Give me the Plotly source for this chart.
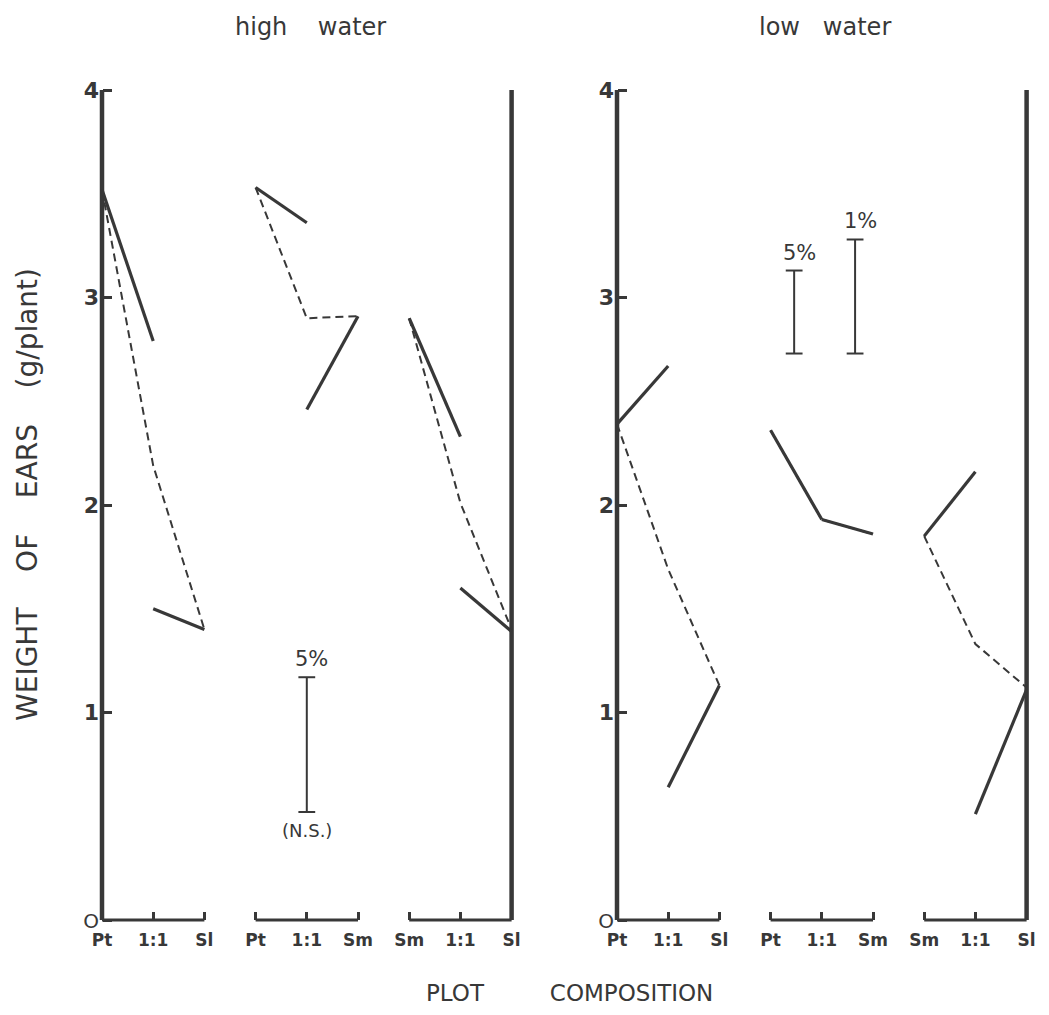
import plotly.graph_objects as go

# ---------------- data ----------------
categories = ["Pt", "1:1", "Sl", "Pt", "1:1", "Sm", "Sm", "1:1", "Sl"]
y_tick_vals = [0, 1, 2, 3, 4]
y_tick_text = ["<span style='font-weight:normal;font-size:20px'>O</span>", "1", "2", "3", "4"]

# high water (g/plant)
hw_g1_solid_a = [3.52, 2.79]        # Pt -> 1:1
hw_g1_dashed = [3.52, 2.19, 1.40]   # Pt -> 1:1 -> Sl
hw_g1_solid_b = [1.50, 1.40]        # 1:1 -> Sl
hw_g2_solid_a = [3.53, 3.36]        # Pt -> 1:1
hw_g2_dashed = [3.53, 2.90, 2.91]   # Pt -> 1:1 -> Sm
hw_g2_solid_b = [2.46, 2.91]        # 1:1 -> Sm
hw_g3_solid_a = [2.90, 2.33]        # Sm -> 1:1
hw_g3_dashed = [2.90, 2.01, 1.40]   # Sm -> 1:1 -> Sl
hw_g3_solid_b = [1.60, 1.39]        # 1:1 -> Sl

# low water (g/plant)
lw_g1_solid_a = [2.39, 2.67]
lw_g1_dashed = [2.39, 1.69, 1.13]
lw_g1_solid_b = [0.64, 1.13]
lw_g2_solid_a = [2.36, 1.93]
lw_g2_dashed = [2.36, 1.93, 1.86]
lw_g2_solid_b = [1.93, 1.86]
lw_g3_solid_a = [1.85, 2.16]
lw_g3_dashed = [1.85, 1.33, 1.12]
lw_g3_solid_b = [0.51, 1.11]

# significance bars: position, low, high, label
hw_bar_pos = [4.0]
hw_bar_low = [0.52]
hw_bar_high = [1.17]
hw_bar_label = ["5%"]
lw_bar_pos = [3.46, 4.65]
lw_bar_low = [2.73, 2.73]
lw_bar_high = [3.13, 3.28]
lw_bar_label = ["5%", "1%"]

y_axis_top = 4

# ---------------- figure ----------------
OFF = 8                      # page body margin
W, H = 1049 - OFF, 1015 - OFF
INK = "#383838"
FONT = "DejaVu Sans"

fig = go.Figure()


def add_panel(xa, ya, groups, bar_pos, bar_low, bar_high):
    n = len(categories)
    for xv in (0, n - 1):
        fig.add_trace(go.Scatter(x=[xv, xv], y=[0, y_axis_top], mode="lines",
                                 line=dict(color=INK, width=4.5),
                                 xaxis=xa, yaxis=ya, showlegend=False, hoverinfo="skip"))
    for g in range(3):
        fig.add_trace(go.Scatter(x=[3 * g, 3 * g + 2], y=[0, 0], mode="lines",
                                 line=dict(color=INK, width=3),
                                 xaxis=xa, yaxis=ya, showlegend=False, hoverinfo="skip"))
    for g, (sa, dsh, sb) in enumerate(groups):
        x0 = 3 * g
        fig.add_trace(go.Scatter(x=[x0, x0 + 1, x0 + 2], y=dsh, mode="lines",
                                 line=dict(color=INK, width=2, dash="8px,5px"),
                                 xaxis=xa, yaxis=ya, showlegend=False))
        fig.add_trace(go.Scatter(x=[x0, x0 + 1], y=sa, mode="lines",
                                 line=dict(color=INK, width=3.2),
                                 xaxis=xa, yaxis=ya, showlegend=False))
        fig.add_trace(go.Scatter(x=[x0 + 1, x0 + 2], y=sb, mode="lines",
                                 line=dict(color=INK, width=3.2),
                                 xaxis=xa, yaxis=ya, showlegend=False))
    for p, lo, hi in zip(bar_pos, bar_low, bar_high):
        fig.add_trace(go.Scatter(x=[p, p], y=[lo, hi], mode="lines+markers",
                                 line=dict(color=INK, width=2),
                                 marker=dict(symbol="line-ew", size=12,
                                             line=dict(color=INK, width=2)),
                                 xaxis=xa, yaxis=ya, showlegend=False))


add_panel("x", "y",
          [(hw_g1_solid_a, hw_g1_dashed, hw_g1_solid_b),
           (hw_g2_solid_a, hw_g2_dashed, hw_g2_solid_b),
           (hw_g3_solid_a, hw_g3_dashed, hw_g3_solid_b)],
          hw_bar_pos, hw_bar_low, hw_bar_high)
add_panel("x2", "y2",
          [(lw_g1_solid_a, lw_g1_dashed, lw_g1_solid_b),
           (lw_g2_solid_a, lw_g2_dashed, lw_g2_solid_b),
           (lw_g3_solid_a, lw_g3_dashed, lw_g3_solid_b)],
          lw_bar_pos, lw_bar_low, lw_bar_high)

# axis geometry (target page pixels, converted to figure pixels)
step = 51.2
xr = [-0.4, 8.4]
left_x0, right_x0 = 102 - OFF, 617 - OFF
y0_px, y4_px = 920 - OFF, 90 - OFF
unit = (y0_px - y4_px) / 4
yr = [-0.15, 4.15]
y_top_px = y4_px - (yr[1] - 4) * unit
y_bot_px = y0_px + (0 - yr[0]) * unit
ydom = [(H - y_bot_px) / H, (H - y_top_px) / H]


def xdom(x0):
    return [(x0 + xr[0] * step) / W, (x0 + xr[1] * step) / W]


def px(xp, yp):
    return (xp - OFF) / W, (H - (yp - OFF)) / H


xcommon = dict(range=xr, tickmode="array", tickvals=list(range(len(categories))),
               ticktext=categories, ticks="inside", ticklen=8, tickwidth=3,
               tickcolor=INK, showline=False, showgrid=False, zeroline=False,
               anchor="free", position=(H - y0_px) / H, ticklabelstandoff=8,
               tickfont=dict(family=FONT, size=17, color=INK, weight="bold"),
               fixedrange=True)
ycommon = dict(range=yr, tickmode="array", tickvals=y_tick_vals, ticktext=y_tick_text,
               ticks="inside", ticklen=9, tickwidth=2.5, tickcolor=INK,
               showline=False, showgrid=False, zeroline=False, anchor="free",
               domain=ydom, ticklabelstandoff=3,
               tickfont=dict(family=FONT, size=22, color=INK, weight="bold"),
               fixedrange=True)

fig.update_layout(
    width=W, height=H, autosize=False,
    margin=dict(l=0, r=0, t=0, b=0),
    paper_bgcolor="white", plot_bgcolor="rgba(0,0,0,0)",
    xaxis=dict(domain=xdom(left_x0), **xcommon),
    xaxis2=dict(domain=xdom(right_x0), **xcommon),
    yaxis=dict(position=left_x0 / W, **ycommon),
    yaxis2=dict(position=right_x0 / W, **ycommon),
    showlegend=False,
    font=dict(family=FONT, color=INK),
)

ann = []
for p, hi, lab in zip(hw_bar_pos, hw_bar_high, hw_bar_label):
    ann.append(dict(x=p, y=hi, xref="x", yref="y", text=lab, showarrow=False,
                    xanchor="center", yanchor="bottom", yshift=4, xshift=5,
                    font=dict(family=FONT, size=21, color=INK)))
for p, lo in zip(hw_bar_pos, hw_bar_low):
    ann.append(dict(x=p, y=lo, xref="x", yref="y", text="(N.S.)", showarrow=False,
                    xanchor="center", yanchor="top", yshift=-6,
                    font=dict(family=FONT, size=18, color=INK)))
for p, hi, lab in zip(lw_bar_pos, lw_bar_high, lw_bar_label):
    ann.append(dict(x=p, y=hi, xref="x2", yref="y2", text=lab, showarrow=False,
                    xanchor="center", yanchor="bottom", yshift=4, xshift=5,
                    font=dict(family=FONT, size=21, color=INK)))

nb = "\u00a0"
x_, y_ = px(310, 27)
ann.append(dict(x=x_, y=y_, xref="paper", yref="paper", xanchor="center", yanchor="middle",
                text="high" + nb * 4 + "water", showarrow=False,
                font=dict(family=FONT, size=24, color=INK)))
x_, y_ = px(825, 27)
ann.append(dict(x=x_, y=y_, xref="paper", yref="paper", xanchor="center", yanchor="middle",
                text="low" + nb * 3 + "water", showarrow=False,
                font=dict(family=FONT, size=24, color=INK)))
x_, y_ = px(27, 495)
ann.append(dict(x=x_, y=y_, xref="paper", yref="paper", xanchor="center", yanchor="middle",
                text="WEIGHT" + nb * 4 + "OF" + nb * 4 + "EARS" + nb * 4 + "(g/plant)",
                textangle=-90, showarrow=False,
                font=dict(family=FONT, size=28, color=INK)))
x_, y_ = px(569, 993)
ann.append(dict(x=x_, y=y_, xref="paper", yref="paper", xanchor="center", yanchor="middle",
                text="PLOT" + nb * 9 + "COMPOSITION", showarrow=False,
                font=dict(family=FONT, size=23, color=INK)))
fig.update_layout(annotations=ann)

fig.write_html("out.html")
